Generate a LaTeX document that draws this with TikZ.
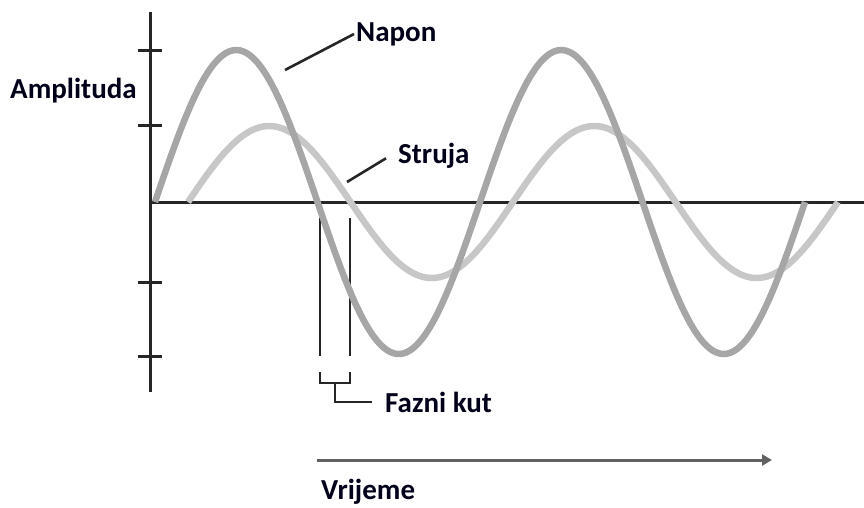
\documentclass[tikz,border=0pt]{standalone}
\usepackage{fontspec}
\setmainfont{Carlito}
\usetikzlibrary{arrows.meta,positioning}

\begin{document}
\begin{tikzpicture}[x=1pt,y=-1pt,
  label/.style={inner sep=0pt,font=\bfseries\fontsize{29}{34}\selectfont,text=black!90!blue},
  axis/.style={line width=3pt,black!85},
  wave/.style={line width=6.5pt},
  leader/.style={line width=2.6pt,black!85}]
\useasboundingbox (0,0) rectangle (864,507);
% axes
\draw[axis] (150,12) -- (150,392);
\draw[axis] (150,202) -- (864,202);
\foreach \ty in {50,125,282,356}
  \draw[axis] (138,\ty) -- (162,\ty);
\node[label,anchor=base west] (amplituda) at (10,98) {Amplituda};
% phase lines
\coordinate (naponZero) at (320,218);
\coordinate (strujaZero) at (350,218);
\draw[leader,line width=2.3pt] (naponZero) -- (320,356);
\draw[leader,line width=2.3pt] (strujaZero) -- (350,356);
% waves
\draw[wave,black!22] plot[domain=188:838,samples=200] (\x,{202-76*sin((\x-188)/325*360)});
\draw[wave,black!35] plot[domain=155:805,samples=200] (\x,{202-152*sin((\x-155)/325*360)});
% labels
\node[label,anchor=west] (napon) at (356,34) {Napon};
\coordinate (naponTip) at (285,70);
\draw[leader] (naponTip) -- ([xshift=-2pt]napon.west);
\node[label,anchor=base west] (struja) at (398,163) {Struja};
\coordinate (strujaTip) at (347,182);
\draw[leader] (strujaTip) -- ([xshift=-12pt,yshift=-3pt]struja.west);
% phase angle bracket
\node[label,anchor=base west] (fazni) at (385,412) {Fazni kut};
\draw[leader,line width=2.3pt] (320,372) |- (350,383) -- (350,372);
\draw[leader,line width=2.3pt] (335,383) |- ([xshift=-13pt]fazni.west);
% time arrow
\coordinate (tStart) at (317,460);
\coordinate (tEnd) at (772,460);
\draw[line width=3pt,black!62,-{Triangle[length=10pt,width=11pt]}] (tStart) -- (tEnd);
\node[label,anchor=base west] (vrijeme) at (321,499) {Vrijeme};
\end{tikzpicture}
\end{document}
